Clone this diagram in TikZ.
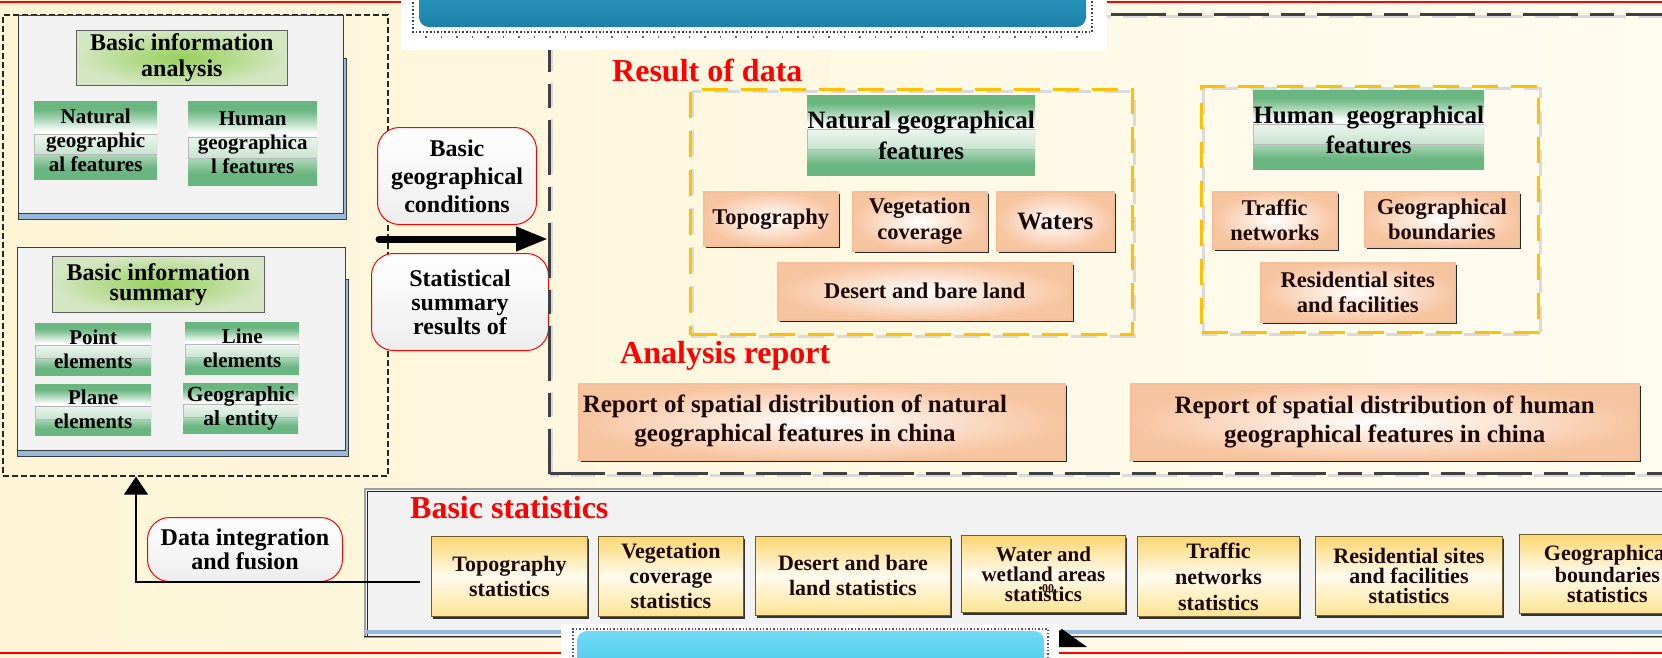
\documentclass[tikz,border=0pt]{standalone}
\usepackage{fontspec}
\setmainfont{Liberation Serif}
\usetikzlibrary{shadows,arrows.meta,calc}

% palette
\definecolor{creamL}{RGB}{254,245,214}
\definecolor{creamR}{RGB}{255,252,240}
\definecolor{panelgray}{RGB}{242,242,242}
\definecolor{panelline}{RGB}{60,60,60}
\definecolor{panelblue}{RGB}{150,185,220}
\definecolor{leafgreen}{RGB}{106,182,128}
\definecolor{paleleaf}{RGB}{212,230,194}
\definecolor{brightleaf}{RGB}{150,208,90}
\definecolor{peach}{RGB}{247,196,160}
\definecolor{peachedge}{RGB}{244,192,156}
\definecolor{goldtop}{RGB}{252,214,112}
\definecolor{goldbot}{RGB}{253,228,146}
\definecolor{goldedge}{RGB}{110,92,50}
\definecolor{amber}{RGB}{255,192,0}
\definecolor{dashgray}{RGB}{64,64,64}
\definecolor{shadowgray}{RGB}{218,218,218}
\definecolor{bannerblue}{RGB}{48,166,205}
\definecolor{bannerdark}{RGB}{30,128,168}
\definecolor{skyblue}{RGB}{62,192,230}
\definecolor{skylight}{RGB}{112,218,246}
\definecolor{inkbrown}{RGB}{30,8,8}

% green-white-green fill of the feature boxes (box spans 25bp..75bp)
\pgfdeclareverticalshading{leafshade}{100bp}{%
  color(0bp)=(leafgreen); color(32bp)=(leafgreen); color(40bp)=(leafgreen!60!white);
  color(56bp)=(white); color(66bp)=(leafgreen!75!white); color(70bp)=(leafgreen);
  color(100bp)=(leafgreen)}

\newcommand{\boxfont}[2]{\fontsize{#1}{#2}\selectfont\bfseries}

\tikzset{
  corner/.style={anchor=north west, inner sep=0pt, align=center},
  panel/.style={corner, draw=panelline, line width=1.2pt, fill=panelgray},
  panelback/.style={corner, draw=panelline, line width=1.2pt, fill=panelblue},
  outerdash/.style={corner, draw=black!85, line width=1.6pt, dash pattern=on 6pt off 3pt},
  longdash/.style={corner, draw=dashgray, line width=3pt, dash pattern=on 55pt off 12pt on 24pt off 12pt},
  amberbox/.style={corner, draw=amber, line width=3pt, dash pattern=on 26pt off 13pt},
  ambershadow/.style={draw=shadowgray, line width=3pt, dash pattern=on 26pt off 13pt},
  titlebox/.style={corner, draw=gray!75!black, line width=0.8pt, shading=radial,
    inner color=brightleaf, outer color=paleleaf},
  leafbox/.style={corner, shading=leafshade,
    path picture={\shadedraw[draw=gray!55, line width=0.6pt, top color=white, bottom color=leafgreen!35!white, fill opacity=0.6]
      ($(path picture bounding box.north west)!0.43!(path picture bounding box.south west)$)
      rectangle ($(path picture bounding box.north east)!0.68!(path picture bounding box.south east)$);}},
  peachbox/.style={corner, draw=peachedge, line width=1.5pt, shading=radial,
    inner color=white, outer color=peach, text=inkbrown,
    general shadow={fill=black!85, shadow xshift=2pt, shadow yshift=-2.5pt}},
  statbox/.style={corner, draw=goldedge, line width=0.9pt, top color=goldtop, bottom color=goldbot,
    middle color=white!85!goldbot, text=inkbrown,
    general shadow={fill=black!80, shadow xshift=1.5pt, shadow yshift=-2.5pt}},
  redround/.style={corner, draw=red, line width=1pt, rounded corners=22pt,
    top color=white, bottom color=gray!14},
  heading/.style={anchor=base west, inner sep=0pt, text=red, font=\boxfont{32}{36}},
}

\begin{document}
\begin{tikzpicture}[x=1pt,y=-1pt]
\useasboundingbox (0,0) rectangle (1662,657);
\clip (0,0) rectangle (1662,657);

% paper
\shade[left color=creamL, right color=creamR] (0,0) rectangle (1662,657);

% red rules along top and bottom
\draw[red, line width=2pt] (0,2) -- (401,2);
\draw[red, line width=2pt] (1107,2) -- (1662,2);
\draw[red, line width=2pt] (0,653) -- (561,653);
\draw[red, line width=2pt] (1059,653) -- (1662,653);

% ---------- left column ----------
\node[outerdash, minimum width=385pt, minimum height=461pt] (leftouter) at (2,14) {};

\node[panelback, minimum width=328pt, minimum height=161pt] (panelAback) at (18,58) {};
\node[panel, minimum width=325pt, minimum height=198pt] (panelA) at (18,15) {};
\node[panelback, minimum width=331pt, minimum height=177pt] (panelBback) at (17,279) {};
\node[panel, minimum width=328pt, minimum height=203pt] (panelB) at (17,247) {};

\node[titlebox, minimum width=211pt, minimum height=55pt, font=\boxfont{24}{26}] (infoA) at (76,30)
  {Basic information\\analysis};
\node[leafbox, minimum width=123pt, minimum height=78pt, font=\boxfont{21}{24}] (natA) at (34,101)
  {Natural\\geographic\\al features};
\node[leafbox, minimum width=129pt, minimum height=84pt, font=\boxfont{21}{24}] (humA) at (188,101)
  {Human\\geographica\\l features};

\node[titlebox, minimum width=212pt, minimum height=56pt, font=\boxfont{24}{20}] (infoB) at (52,256)
  {Basic information\\summary};
\node[leafbox, minimum width=116pt, minimum height=52pt, font=\boxfont{21}{24}] (pointel) at (35,323)
  {Point\\elements};
\node[leafbox, minimum width=114pt, minimum height=52pt, font=\boxfont{21}{24}] (lineel) at (185,322)
  {Line\\elements};
\node[leafbox, minimum width=116pt, minimum height=51pt, font=\boxfont{21}{24}] (planeel) at (35,384)
  {Plane\\elements};
\node[leafbox, minimum width=115pt, minimum height=50pt, font=\boxfont{21.5}{24}] (entityel) at (183,383)
  {Geographic\\al entity};

% ---------- connecting labels ----------
\node[redround, minimum width=159pt, minimum height=97pt, font=\boxfont{24}{28}] (bgc) at (377,127)
  {Basic\\geographical\\conditions};
\node[redround, minimum width=177pt, minimum height=97pt, font=\boxfont{24}{24}] (ssr) at (371,253)
  {Statistical\\summary\\results of};

% ---------- results frame ----------
\draw[draw=shadowgray, line width=3pt, dash pattern=on 55pt off 12pt on 24pt off 12pt]
  (551,16) rectangle (1711,475);
\node[longdash, minimum width=1160pt, minimum height=459pt] (resbox) at (548,13) {};

% title banner, top
\node[corner, fill=white, minimum width=706pt, minimum height=50pt] (topback) at (401,0) {};
\draw[black!75, line width=1.6pt, dotted] (413,-5) -- (413,32) -- (1092,32) -- (1092,-5);
\draw[black!60, line width=1.4pt, dash pattern=on 1.5pt off 14pt] (425,37) -- (1080,37);
\shade[top color=bannerblue, bottom color=bannerdark, rounded corners=10pt] (419,-30) rectangle (1086,27);

\node[heading] (resdata) at (612,81) {Result of data};
\node[heading] (anarep) at (620,363) {Analysis report};

% natural features group
\draw[ambershadow] (692,91) rectangle (1134,336);
\node[amberbox, minimum width=442pt, minimum height=245pt] (natgroup) at (689,88) {};
\node[leafbox, minimum width=228pt, minimum height=80pt, font=\boxfont{25}{31}] (natgeo) at (807,95)
  {Natural geographical\\features};
\node[peachbox, minimum width=134pt, minimum height=54pt, font=\boxfont{22.5}{26}] (topo) at (703,191)
  {Topography};
\node[peachbox, minimum width=134pt, minimum height=59pt, font=\boxfont{22.5}{26}] (veg) at (852,191)
  {Vegetation\\coverage};
\node[peachbox, minimum width=117pt, minimum height=59pt, font=\boxfont{25}{28}] (waters) at (996,191)
  {Waters};
\node[peachbox, minimum width=294pt, minimum height=57pt, font=\boxfont{22.5}{26}] (desert) at (777,262)
  {Desert and bare land};

% human features group
\draw[ambershadow] (1203,88) rectangle (1540,334);
\node[amberbox, minimum width=337pt, minimum height=246pt] (humgroup) at (1200,85) {};
\node[leafbox, minimum width=231pt, minimum height=79pt, font=\boxfont{25}{30}] (humgeo) at (1253,90)
  {Human\ \ geographical\\features};
\node[peachbox, minimum width=124pt, minimum height=57pt, font=\boxfont{22.5}{25}] (traffic) at (1212,191)
  {Traffic\\networks};
\node[peachbox, minimum width=154pt, minimum height=55pt, font=\boxfont{22.5}{25}] (bounds) at (1364,191)
  {Geographical\\boundaries};
\node[peachbox, minimum width=194pt, minimum height=59pt, font=\boxfont{22.5}{25}] (resid) at (1260,262)
  {Residential sites\\and facilities};

% analysis reports
\node[peachbox, minimum width=486pt, minimum height=76pt] (repnat) at (578,383) {};
\node[font=\boxfont{25}{29}, align=center, text=inkbrown, inner sep=0pt] (repnattext) at (795,421)
  {Report of spatial distribution of natural\\geographical features in china};
\node[peachbox, minimum width=508pt, minimum height=76pt, font=\boxfont{25}{29}] (rephum) at (1130,383)
  {Report of spatial distribution of human\\geographical features in china};

% ---------- statistics strip ----------
\node[corner, fill=panelgray, draw=gray!75, line width=2pt, minimum width=1336pt, minimum height=148pt] (statpanel) at (364,488) {};
\draw[black!85, line width=0.8pt] (367,491) -- (1700,491);
\draw[black!85, line width=0.8pt] (367,491) -- (367,636);
\fill[panelblue] (364,630) rectangle (1700,634);
\draw[black!85, line width=1pt] (364,636) -- (1700,636);

\node[heading] (basicstat) at (410,518) {Basic statistics};

\node[statbox, minimum width=156pt, minimum height=80pt, font=\boxfont{22}{25}] (stattopo) at (431,536)
  {Topography\\statistics};
\node[statbox, minimum width=145pt, minimum height=80pt, font=\boxfont{22}{25}] (statveg) at (598,536)
  {Vegetation\\coverage\\statistics};
\node[statbox, minimum width=195pt, minimum height=79pt, font=\boxfont{22}{25}] (statdesert) at (755,536)
  {Desert and bare\\land statistics};
\node[statbox, minimum width=164pt, minimum height=77pt, font=\boxfont{21}{20}] (statwater) at (961,535)
  {Water and\\wetland areas\\statistics};
\node[font=\boxfont{12}{12}, text=inkbrown, inner sep=0pt] (statwatermark) at (1048,589) {00};
\node[statbox, minimum width=162pt, minimum height=80pt, font=\boxfont{22}{26}] (stattraffic) at (1137,536)
  {Traffic\\networks\\statistics};
\node[statbox, minimum width=187pt, minimum height=79pt, font=\boxfont{22}{20}] (statresid) at (1315,536)
  {Residential sites\\and facilities\\statistics};
\node[statbox, minimum width=176pt, minimum height=79pt, font=\boxfont{22}{20}] (statbounds) at (1519,534)
  {Geographical\\boundaries\\statistics};

% title banner, bottom
\node[corner, fill=white, minimum width=498pt, minimum height=40pt] (botback) at (561,624) {};
\draw[blue!40!gray, line width=1.4pt, dotted] (573,660) -- (573,629) -- (1048,629) -- (1048,660);
\shade[top color=skylight, bottom color=skyblue, rounded corners=10pt] (577,631) rectangle (1044,690);
\fill[black] (1059,647) -- (1059,631) -- (1062,629) -- (1087,647) -- cycle;

% ---------- flows ----------
\coordinate (thickstart) at (379,239);
\draw[line width=7pt, line cap=round, -{Triangle[length=32pt,width=23pt]}]
  (thickstart) -- (thickstart -| resbox.west);

\node[redround, minimum width=195pt, minimum height=64pt, font=\boxfont{24}{24}] (fusion) at (147,517)
  {Data integration\\and fusion};
\coordinate (fusestart) at (420,582);
\coordinate (fuseturn) at (136,582);
\draw[line width=1.3pt, -{Triangle[length=18pt,width=24pt]}]
  (fusestart) -- (fuseturn) -- (fuseturn |- leftouter.south);

\end{tikzpicture}
\end{document}
